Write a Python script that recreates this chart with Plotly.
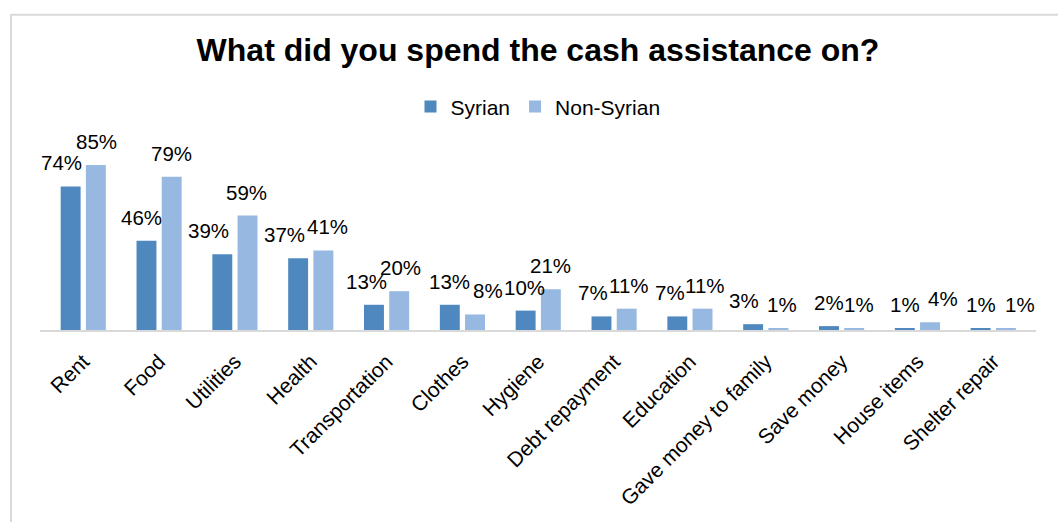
import plotly.graph_objects as go

categories = ["Rent", "Food", "Utilities", "Health", "Transportation", "Clothes",
              "Hygiene", "Debt repayment", "Education", "Gave money to family",
              "Save money", "House items", "Shelter repair"]
syrian = [74, 46, 39, 37, 13, 13, 10, 7, 7, 3, 2, 1, 1]
non_syrian = [85, 79, 59, 41, 20, 8, 21, 11, 11, 1, 1, 4, 1]
series_names = ["Syrian", "Non-Syrian"]

# horizontal nudges (px) of the value labels, as placed in the original chart
nudge_syrian = [-9, -5, -14, -14, -7, 0, -1, -8, -7, -9, 0, 0, 0]
nudge_non_syrian = [0, 0, -1, 4, 1, 13, -1, 2, 2, 3, 5, 13, 14]

C_SYR = "#4F88BE"
C_NON = "#97B8E0"
FONT = "Liberation Sans, Arial, sans-serif"

fig = go.Figure()
fig.add_trace(go.Bar(x=categories, y=syrian, name=series_names[0],
                     marker=dict(color=C_SYR, line=dict(width=0))))
fig.add_trace(go.Bar(x=categories, y=non_syrian, name=series_names[1],
                     marker=dict(color=C_NON, line=dict(width=0))))

BAR_OFF = 12.75
annotations = []
for vals, nudges, side in ((syrian, nudge_syrian, -1), (non_syrian, nudge_non_syrian, 1)):
    for c, v, n in zip(categories, vals, nudges):
        annotations.append(dict(x=c, y=v, xref="x", yref="y", text=f"{v}%",
                                showarrow=False, xanchor="center", yanchor="bottom",
                                xshift=side * BAR_OFF + n, yshift=11, borderpad=0,
                                font=dict(family=FONT, size=20.5, color="#000000")))

W, H = 1058, 522
L, R, T, B = 40, 22, 136, 186
pw = W - L - R
ph = H - T - B

fig.update_layout(
    width=W, height=H,
    margin=dict(l=L, r=R, t=T, b=B),
    paper_bgcolor="white", plot_bgcolor="white",
    barmode="group", bargap=0.335, bargroupgap=0.21,
    font=dict(family=FONT, size=21, color="#000000"),
    title=dict(text="<b>What did you spend the cash assistance on?</b>",
               x=0.5, xref="paper", xanchor="center",
               y=1 - 50 / H, yref="container", yanchor="middle",
               font=dict(family=FONT, size=32, color="#000000")),
    legend=dict(orientation="h", x=0.5, xanchor="center", y=1.15, yanchor="middle",
                font=dict(family=FONT, size=21, color="#000000"),
                bgcolor="rgba(0,0,0,0)", itemwidth=30),
    xaxis=dict(showline=True, linecolor="#D9D9D9", linewidth=2, showgrid=False,
               ticks="", tickangle=-45, ticklabelstandoff=9,
               tickfont=dict(family=FONT, size=21, color="#000000")),
    yaxis=dict(range=[0, 100], visible=False, showgrid=False, zeroline=False),
    annotations=annotations,
    shapes=[dict(type="rect", xref="paper", yref="paper",
                 x0=(11 - L) / pw, x1=1.2, y0=-1.5, y1=(T + ph - 11) / ph,
                 line=dict(color="#D9D9D9", width=2), fillcolor="rgba(0,0,0,0)", layer="below")],
)

fig.write_html("out.html", config={"displayModeBar": False},
               post_script="document.body.style.margin='0';document.body.style.overflow='hidden';")
